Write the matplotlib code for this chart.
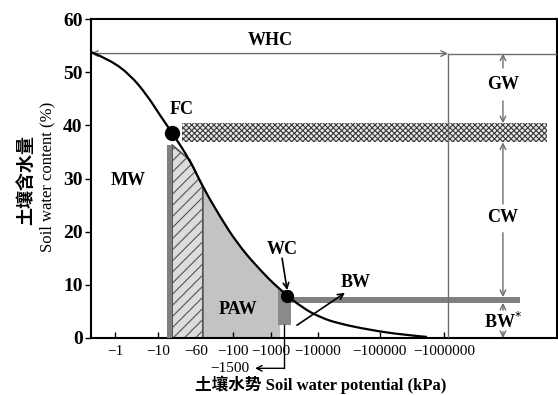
import numpy as np
import matplotlib
matplotlib.use("Agg")
import matplotlib.pyplot as plt
from matplotlib.path import Path
from matplotlib.patches import PathPatch

plt.rcParams['font.family'] = ['Liberation Serif', 'Noto Sans CJK SC']
plt.rcParams['hatch.linewidth'] = 0.8
plt.rcParams['axes.unicode_minus'] = True

# x axis is a schematic (non-linear) potential scale, positions in axis units
tick_pos = [0.52, 1.44, 2.25, 3.05, 3.86, 4.87, 6.20, 7.58]
tick_labels = ['−1', '−10', '−60', '−100', '−1000', '−10000', '−100000', '−1000000']

# soil water retention curve
curve_x = [0.00, 0.41, 0.84, 1.20, 1.48, 1.74, 2.12, 2.40, 2.77, 3.13,
           3.56, 4.06, 4.55, 4.92, 5.28, 5.99, 6.70, 7.21]
curve_y = [53.8, 52.3, 49.5, 45.7, 41.9, 38.6, 33.5, 28.4, 22.8, 17.9,
           13.4, 9.0, 5.6, 3.9, 2.8, 1.5, 0.6, 0.2]

whc = 53.5              # saturation / WHC level
fc = (1.74, 38.6)       # field capacity
wc = (4.21, 7.9)        # wilting point
gw_band = (36.8, 40.4)  # gravity water boundary band
bw_band = (6.6, 7.7)    # bound water level band
mw_bar = (1.63, 1.74, 36.3)
wc_bar = (4.01, 4.29, 2.4, 9.0)
x_60 = 2.40
x_whc = 7.66
x_right = 8.84

gray = '#6e6e6e'

fig = plt.figure(figsize=(5.58, 3.95), dpi=100)
ax = fig.add_axes([91 / 558, 57 / 395, 466 / 558, 319 / 395])
ax.set_xlim(0, 10)
ax.set_ylim(0, 60)

cx = np.array(curve_x)
cy = np.array(curve_y)

# PAW light grey area
m = (cx >= x_60 - 1e-9) & (cx <= 4.06 + 1e-9)
ax.fill_between(cx[m], 0, cy[m], facecolor='#c3c3c3', edgecolor='none', zorder=1)

# hatched area between FC and -60
m = (cx >= fc[0] - 1e-9) & (cx <= x_60 + 1e-9)
hy = cy[m].copy()
hy[0] = mw_bar[2]
ax.fill_between(cx[m], 0, hy, facecolor='#dcdcdc', edgecolor='#555555',
                hatch='///', lw=1.3, zorder=2)

# MW dark bar
ax.bar(mw_bar[0], mw_bar[2], width=mw_bar[1] - mw_bar[0], align='edge',
       color='#808080', zorder=3)
# WC dark bar
ax.bar(wc_bar[0], wc_bar[3] - wc_bar[2], bottom=wc_bar[2],
       width=wc_bar[1] - wc_bar[0], align='edge', color='#8a8a8a', zorder=3)

# gravity water band (checker)
ax.fill_between([1.95, 9.79], gw_band[0], gw_band[1], facecolor='#e8e8e8',
                edgecolor='#3a3a3a', hatch='xxxxxx', lw=0, zorder=2)
# bound water band
ax.fill_between([4.29, 9.21], bw_band[0], bw_band[1], facecolor='#808080',
                edgecolor='none', zorder=3)

# WHC line and vertical line
ax.annotate('', xy=(0.0, whc), xytext=(x_whc, whc),
            arrowprops=dict(arrowstyle='<->', color=gray, lw=1,
                            shrinkA=0, shrinkB=0), zorder=4)
ax.plot([x_whc, 10], [whc, whc], color=gray, lw=1, zorder=4)
ax.plot([x_whc, x_whc], [0, whc], color=gray, lw=1, zorder=4)

# right-hand arrows
def varrow(y0, y1):
    ax.annotate('', xy=(x_right, y1), xytext=(x_right, y0),
                arrowprops=dict(arrowstyle='->', color=gray, lw=1,
                                shrinkA=0, shrinkB=0), zorder=4)

varrow(50.8, whc)
varrow(44.6, gw_band[1])
varrow(25.2, gw_band[0])
varrow(19.8, bw_band[1])
varrow(5.2, bw_band[0])
varrow(1.2, 0)

# curve, drawn as a smooth quadratic path through the read points
pts = np.column_stack([cx, cy])
verts = [pts[0]]
codes = [Path.MOVETO]
for i in range(1, len(pts) - 1):
    mid = (pts[i] + pts[i + 1]) / 2 if i < len(pts) - 2 else pts[i + 1]
    verts += [pts[i], mid]
    codes += [Path.CURVE3, Path.CURVE3]
ax.add_patch(PathPatch(Path(verts, codes), facecolor='none',
                       edgecolor='black', lw=1.6, zorder=5))

# points
ax.plot(*fc, 'o', color='black', ms=10, zorder=6)
ax.plot(*wc, 'o', color='black', ms=8.5, zorder=6)

# labels
lab = dict(fontsize=13, fontweight='bold', ha='center', va='center', zorder=7)
ax.text(3.84, 56.0, 'WHC', **lab)
ax.text(1.95, 42.9, 'FC', **lab)
ax.text(0.79, 29.7, 'MW', **lab)
ax.text(3.15, 5.3, 'PAW', **lab)
ax.text(4.10, 16.6, 'WC', **lab)
ax.text(5.67, 10.5, 'BW', **lab)
ax.text(x_right, 47.6, 'GW', **lab)
ax.text(x_right, 22.6, 'CW', **lab)
ax.text(x_right, 3.0, 'BW$^{*}$', **lab)

ax.annotate('', xy=(4.21, 9.0), xytext=(4.10, 15.0),
            arrowprops=dict(arrowstyle='->', color='black', lw=1.2,
                            shrinkA=0, shrinkB=0), zorder=7)
ax.annotate('', xy=(5.45, 8.5), xytext=(4.42, 2.4),
            arrowprops=dict(arrowstyle='->', color='black', lw=1.2,
                            shrinkA=0, shrinkB=0), zorder=7)

# -1500 marker below the axis
y1500 = -5.7
ax.plot([4.14, 4.14], [2.4, y1500], color='black', lw=1, clip_on=False, zorder=7)
ax.annotate('', xy=(3.52, y1500), xytext=(4.14, y1500),
            arrowprops=dict(arrowstyle='->', color='black', lw=1,
                            shrinkA=0, shrinkB=0), annotation_clip=False)
ax.text(2.98, y1500, '−1500', fontsize=11, ha='center', va='center',
        clip_on=False)

# axes styling
for s in ax.spines.values():
    s.set_linewidth(1.5)
ax.set_xticks(tick_pos)
ax.set_xticklabels(tick_labels, fontsize=11)
ax.set_yticks(range(0, 61, 10))
ax.set_yticklabels([str(v) for v in range(0, 61, 10)], fontsize=14,
                   fontweight='bold')
ax.tick_params(axis='x', direction='in', length=4, width=1, pad=5)
ax.tick_params(axis='y', direction='out', length=4, width=1, pad=2)

fig.text(0.575, 0.025, '土壤水势 Soil water potential (kPa)', fontsize=12,
         fontweight='bold', ha='center', va='center')
fig.text(0.047, 0.545, '土壤含水量', fontsize=13, fontweight='bold',
         rotation=90, ha='center', va='center')
fig.text(0.085, 0.552, 'Soil water content (%)', fontsize=12,
         rotation=90, ha='center', va='center')

fig.savefig('out.png', dpi=100)
